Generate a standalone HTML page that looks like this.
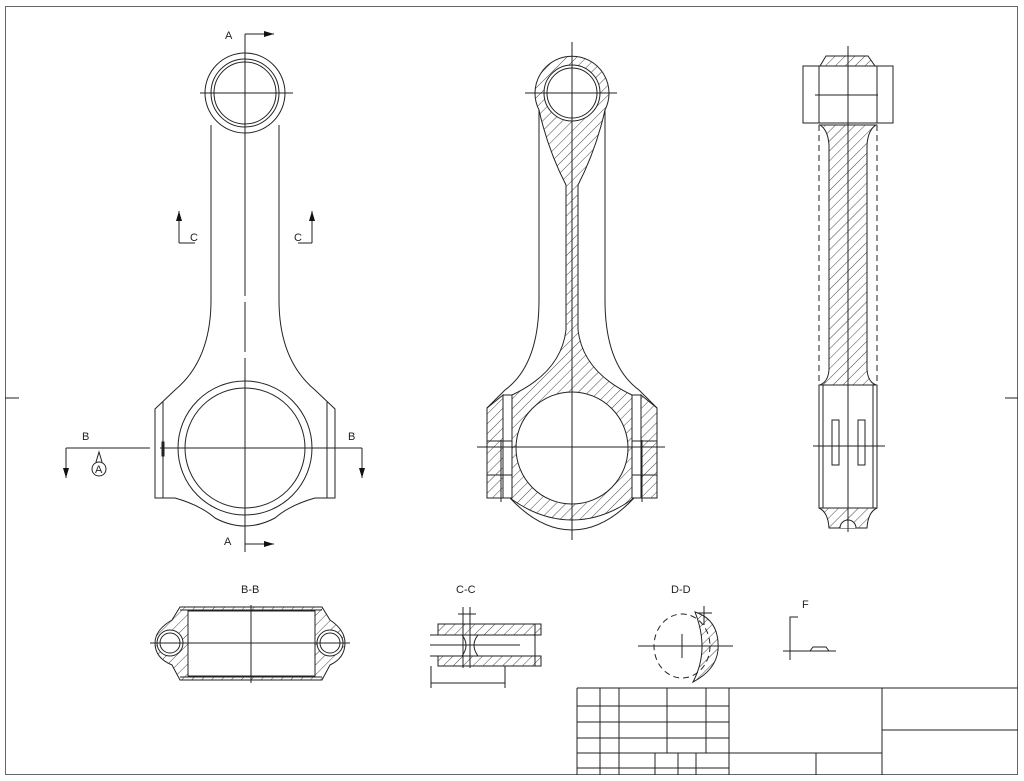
<!DOCTYPE html>
<html><head><meta charset="utf-8"><style>
html,body{margin:0;padding:0;background:#fff;}
svg{display:block;}
text{font-family:"Liberation Sans",sans-serif;font-size:11px;fill:#222;}
</style></head><body>
<svg width="1024" height="781" viewBox="0 0 1024 781" xmlns="http://www.w3.org/2000/svg">
<defs>
<pattern id="h" width="7" height="7" patternUnits="userSpaceOnUse" patternTransform="rotate(45)">
<line x1="0" y1="0" x2="0" y2="7" stroke="#333" stroke-width="0.9"/>
</pattern>
<marker id="ar" markerWidth="10" markerHeight="6" refX="10" refY="3" orient="auto" markerUnits="userSpaceOnUse"><path d="M0,0 L10,3 L0,6 z" fill="#111"/></marker>
</defs>
<g fill="none" stroke="#222" stroke-width="1">
<rect x="5.5" y="6.5" width="1012" height="768" stroke="#666"/>
<line x1="5" y1="398" x2="19" y2="398"/><line x1="1005" y1="398" x2="1018" y2="398"/>

<!-- LEFT VIEW -->
<circle cx="245" cy="93" r="40"/><circle cx="245" cy="93" r="34"/><circle cx="245" cy="93" r="31"/>
<path d="M211,125 L211,300 Q211,360 175,390 L155,409 L155,498 L175,498 Q200,505 215,518 Q245,534 275,518 Q290,505 315,498 L335,498 L335,409 L315,390 Q279,360 279,300 L279,125"/>
<line x1="163" y1="402" x2="163" y2="498"/><line x1="327" y1="402" x2="327" y2="498"/>
<circle cx="245" cy="448" r="67"/><circle cx="245" cy="448" r="60"/>
<line x1="245" y1="34" x2="245" y2="296"/><line x1="245" y1="302" x2="245" y2="352"/><line x1="245" y1="358" x2="245" y2="552"/>
<line x1="200" y1="93" x2="293" y2="93"/>
<line x1="245" y1="34" x2="274" y2="34" marker-end="url(#ar)"/>
<line x1="245" y1="544" x2="274" y2="544" marker-end="url(#ar)"/>
<line x1="66" y1="448" x2="150" y2="448"/><line x1="160" y1="448" x2="362" y2="448"/>
<line x1="66" y1="448" x2="66" y2="478" marker-end="url(#ar)"/>
<line x1="362" y1="448" x2="362" y2="478" marker-end="url(#ar)"/>
<rect x="162" y="442" width="2" height="14" fill="#222"/>
<circle cx="99" cy="469" r="7"/><path d="M96,462 L99,452 L102,462"/>
<path d="M179,243 L195,243"/><line x1="179" y1="243" x2="179" y2="211" marker-end="url(#ar)"/>
<path d="M312,243 L298,243"/><line x1="312" y1="243" x2="312" y2="211" marker-end="url(#ar)"/>

<!-- MIDDLE VIEW -->
<path d="M539,110 A37,37 0 1 1 605,110 Q596,150 578,185 L578,330 Q583,372 632,395 L641,395 L641,498 L634,498 Q604,520 572,520 Q540,520 510,498 L503,498 L503,395 L512,395 Q561,372 566,330 L566,185 Q548,150 539,110 Z" fill="url(#h)"/>
<path d="M487,408 L503,395 L503,498 L487,498 Z" fill="url(#h)"/>
<path d="M657,408 L641,395 L641,498 L657,498 Z" fill="url(#h)"/>
<path d="M539,110 L539,300 Q539,365 505,390 L487,408 L487,498 L510,498 Q540,530 572,530 Q604,530 634,498 L657,498 L657,408 L639,390 Q605,365 605,300 L605,110"/>
<circle cx="572" cy="93" r="28" fill="#fff"/><circle cx="572" cy="93" r="25"/>
<circle cx="572" cy="448" r="56" fill="#fff"/>
<rect x="503" y="395" width="9" height="103" fill="#fff"/><rect x="632" y="395" width="9" height="103" fill="#fff"/>
<line x1="487" y1="441" x2="512" y2="441"/><line x1="487" y1="475" x2="512" y2="475"/>
<line x1="632" y1="441" x2="657" y2="441"/><line x1="632" y1="475" x2="657" y2="475"/>
<line x1="572" y1="42" x2="572" y2="540"/>
<line x1="525" y1="93" x2="617" y2="93"/>
<line x1="477" y1="447" x2="665" y2="447"/>
<line x1="501" y1="440" x2="501" y2="502"/><line x1="642" y1="440" x2="642" y2="502"/>

<!-- RIGHT VIEW -->
<path d="M820,66 L826,56 L868,56 L875,66 Z" fill="url(#h)"/>
<rect x="803" y="66" width="90" height="57"/>
<line x1="819" y1="66" x2="819" y2="123"/><line x1="877" y1="66" x2="877" y2="123"/>
<line x1="815" y1="95" x2="878" y2="95"/>
<path d="M820,125 L876,125 Q868,130 867,145 L867,370 Q868,382 876,385 L820,385 Q828,382 829,370 L829,145 Q828,130 820,125 Z" fill="url(#h)"/>
<line x1="819" y1="125" x2="819" y2="385" stroke-dasharray="6,4"/>
<line x1="877" y1="125" x2="877" y2="385" stroke-dasharray="6,4"/>
<rect x="819" y="385" width="58" height="123"/>
<line x1="823" y1="385" x2="823" y2="508"/><line x1="873" y1="385" x2="873" y2="508"/>
<path d="M819,508 L877,508 Q868,512 867,528 L829,528 Q828,512 819,508 Z" fill="url(#h)"/>
<path d="M840,528 A8,8 0 0 1 856,528" fill="#fff"/>
<rect x="832" y="420" width="7" height="45"/><rect x="858" y="420" width="7" height="45"/>
<line x1="848" y1="46" x2="848" y2="532"/>
<line x1="813" y1="446" x2="885" y2="446"/>

<!-- B-B -->
<path d="M180,607 L322,607 L330,620 Q345,630 345,643 Q345,658 330,665 L322,680 L180,680 L172,665 Q155,658 155,643 Q155,630 172,620 Z" fill="url(#h)"/>
<rect x="188" y="611" width="127" height="65" fill="#fff"/>
<line x1="180" y1="610" x2="322" y2="610"/><line x1="180" y1="677" x2="322" y2="677"/>
<circle cx="170" cy="643" r="13" fill="#fff"/><circle cx="170" cy="643" r="10"/>
<circle cx="330" cy="643" r="13" fill="#fff"/><circle cx="330" cy="643" r="10"/>
<line x1="150" y1="643" x2="350" y2="643"/>
<line x1="251" y1="605" x2="251" y2="683"/>

<!-- C-C -->
<rect x="438" y="624" width="103" height="11" fill="url(#h)"/>
<rect x="438" y="656" width="103" height="10" fill="url(#h)"/>
<path d="M430,635 L541,635 M430,656 L541,656 M438,624 L541,624 M438,666 L541,666"/>
<path d="M462,635 Q470,645 462,656 M478,635 Q470,645 478,656" fill="#fff"/>
<line x1="430" y1="645" x2="520" y2="645"/>
<line x1="463" y1="607" x2="463" y2="668"/><line x1="470" y1="607" x2="470" y2="668"/>
<line x1="458" y1="614" x2="476" y2="614"/>
<line x1="535" y1="624" x2="535" y2="666"/>
<line x1="431" y1="666" x2="431" y2="688"/><line x1="505" y1="666" x2="505" y2="688"/>
<line x1="431" y1="683" x2="505" y2="683"/>

<!-- D-D -->
<ellipse cx="682" cy="646" rx="28" ry="32" stroke-dasharray="6,4"/>
<path d="M695,612 Q720,620 718,650 Q716,670 693,682 Q710,650 695,612 Z" fill="url(#h)"/>
<line x1="638" y1="646" x2="733" y2="646"/>
<line x1="682" y1="634" x2="682" y2="658"/>
<line x1="704" y1="606" x2="704" y2="625"/><line x1="698" y1="613" x2="712" y2="613"/>

<!-- F -->
<path d="M798,617 L790,617 L790,660"/>
<line x1="783" y1="651" x2="836" y2="651"/>
<path d="M810,651 L813,647 L826,647 L829,651"/>

<!-- title block -->
<line x1="577" y1="688" x2="1018" y2="688"/>
<line x1="577" y1="688" x2="577" y2="775"/>
<line x1="600" y1="688" x2="600" y2="775"/><line x1="619" y1="688" x2="619" y2="775"/>
<line x1="667" y1="688" x2="667" y2="753"/><line x1="706" y1="688" x2="706" y2="753"/>
<line x1="729" y1="688" x2="729" y2="775"/><line x1="882" y1="688" x2="882" y2="775"/>
<line x1="577" y1="706" x2="729" y2="706"/><line x1="577" y1="722" x2="729" y2="722"/>
<line x1="577" y1="738" x2="729" y2="738"/>
<line x1="577" y1="753" x2="882" y2="753"/><line x1="577" y1="768" x2="729" y2="768"/>
<line x1="655" y1="753" x2="655" y2="775"/><line x1="678" y1="753" x2="678" y2="775"/><line x1="696" y1="753" x2="696" y2="775"/>
<line x1="816" y1="753" x2="816" y2="775"/>
<line x1="882" y1="730" x2="1018" y2="730"/>
</g>
<g>
<text x="225" y="39">A</text><text x="224" y="545">A</text>
<text x="82" y="440">B</text><text x="348" y="440">B</text>
<text x="95" y="473" font-size="9">A</text>
<text x="190" y="241">C</text><text x="294" y="241">C</text>
<text x="241" y="593">B-B</text>
<text x="456" y="593">C-C</text>
<text x="671" y="593">D-D</text>
<text x="802" y="608">F</text>
</g>
</svg>
</body></html>
